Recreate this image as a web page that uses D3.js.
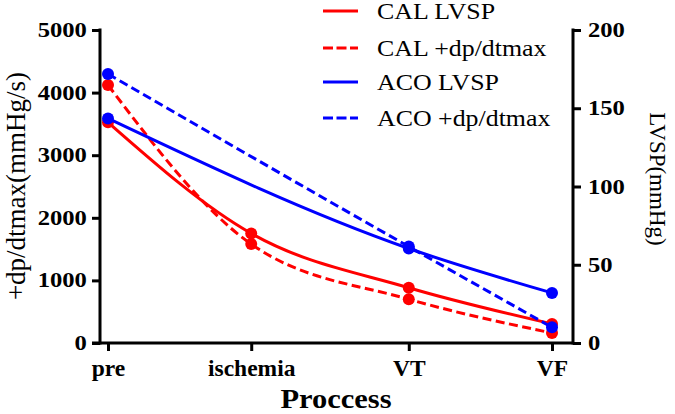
<!DOCTYPE html>
<html>
<head>
<meta charset="utf-8">
<script src="https://cdn.jsdelivr.net/npm/d3@7"></script>
<style>
html,body{margin:0;padding:0;background:#fff;}
svg{display:block;}
text{font-family:"Liberation Serif","Times New Roman",serif;}
</style>
</head>
<body>
<svg id="chart" width="675" height="414"></svg>
<script>
// ---- data ----
const categories = ["pre", "ischemia", "VT", "VF"];
const categoryPositions = [0, 1, 2.1, 3.1];
const calLVSP = [141, 70, 35.3, 12.2];          // right axis (mmHg)
const calDpdt = [4121, 1580, 700, 160];         // left axis (mmHg/s)
const acoLVSP = [143.5, null, 60.4, 32];        // right axis
const acoDpdt = [4297, null, 1540, 251];        // left axis
const leftTicks = [0, 1000, 2000, 3000, 4000, 5000];
const rightTicks = [0, 50, 100, 150, 200];
const seriesNames = ["CAL LVSP", "CAL +dp/dtmax", "ACO LVSP", "ACO +dp/dtmax"];

const svg = d3.select("#chart");
const x = d3.scaleLinear().domain([0, 3.1]).range([108, 552]);
const yL = d3.scaleLinear().domain([0, 5000]).range([343, 30]);
const yR = d3.scaleLinear().domain([0, 200]).range([343, 30]);
const axisLeftX = 100, axisRightX = 573;

const series = [
  {name: seriesNames[0], vals: calLVSP, y: yR, color: "#ff0000", dash: null},
  {name: seriesNames[1], vals: calDpdt, y: yL, color: "#ff0000", dash: "9,4.5"},
  {name: seriesNames[2], vals: acoLVSP, y: yR, color: "#0000ff", dash: null},
  {name: seriesNames[3], vals: acoDpdt, y: yL, color: "#0000ff", dash: "9,4.5"}
];

// axes
const fmt = d3.format("d");
const gL = svg.append("g").attr("transform", `translate(${axisLeftX},0)`)
  .call(d3.axisLeft(yL).tickValues(leftTicks).tickFormat(fmt).tickSize(8).tickSizeOuter(0).tickPadding(5));
const gR = svg.append("g").attr("transform", `translate(${axisRightX},0)`)
  .call(d3.axisRight(yR).tickValues(rightTicks).tickFormat(fmt).tickSize(8).tickSizeOuter(0).tickPadding(6));
const gB = svg.append("g").attr("transform", `translate(0,${yL(0)})`)
  .call(d3.axisBottom(x).tickValues(categoryPositions).tickFormat((d, i) => categories[i]).tickSize(8).tickSizeOuter(0).tickPadding(8));

[gL, gR, gB].forEach(g => {
  g.selectAll("path.domain").remove();
  g.selectAll("line").attr("stroke", "#000").attr("stroke-width", 3);
  g.selectAll("text").attr("fill", "#000").attr("font-weight", "bold")
    .attr("font-family", "'Liberation Serif','Times New Roman',serif");
});
gL.selectAll("text").attr("font-size", 20.5).attr("x", -11).attr("transform", "scale(1.2,1)");
gR.selectAll("text").attr("font-size", 20.5).attr("x", 12.5).attr("transform", "scale(1.2,1)");
gB.selectAll("text").attr("font-size", 23.5);

// axis lines
svg.append("line").attr("x1", axisLeftX).attr("x2", axisLeftX).attr("y1", yL(5000) - 1.5).attr("y2", yL(0) + 1.5)
  .attr("stroke", "#000").attr("stroke-width", 3);
svg.append("line").attr("x1", axisRightX).attr("x2", axisRightX).attr("y1", yR(200) - 1.5).attr("y2", yR(0) + 1.5)
  .attr("stroke", "#000").attr("stroke-width", 3);
svg.append("line").attr("x1", axisLeftX - 8).attr("x2", axisRightX).attr("y1", yL(0)).attr("y2", yL(0))
  .attr("stroke", "#000").attr("stroke-width", 3);

// series
series.forEach(s => {
  const pts = s.vals.map((v, i) => ({px: categoryPositions[i], v})).filter(d => d.v != null);
  const line = d3.line().x(d => x(d.px)).y(d => s.y(d.v)).curve(d3.curveMonotoneX);
  svg.append("path").datum(pts).attr("d", line).attr("fill", "none")
    .attr("stroke", s.color).attr("stroke-width", 3)
    .attr("stroke-dasharray", s.dash);
  svg.append("g").selectAll("circle").data(pts).join("circle")
    .attr("cx", d => x(d.px)).attr("cy", d => s.y(d.v)).attr("r", 6).attr("fill", s.color);
});

// titles
svg.append("text").attr("transform", "translate(25,186) rotate(-90)")
  .attr("text-anchor", "middle").attr("font-size", 27).attr("fill", "#000")
  .text("+dp/dtmax(mmHg/s)");
svg.append("text").attr("transform", "translate(650,179) rotate(90)")
  .attr("text-anchor", "middle").attr("font-size", 23).attr("fill", "#000")
  .text("LVSP(mmHg)");
svg.append("text").attr("transform", "translate(336,408) scale(1.15,1)")
  .attr("text-anchor", "middle").attr("font-size", 26.5).attr("font-weight", "bold").attr("fill", "#000")
  .text("Proccess");

// legend
const legendY = [11, 48, 82, 118];
const lg = svg.append("g");
series.forEach((s, i) => {
  lg.append("line").attr("x1", 323).attr("x2", 358).attr("y1", legendY[i]).attr("y2", legendY[i])
    .attr("stroke", s.color).attr("stroke-width", 3).attr("stroke-dasharray", s.dash ? "10,3.5" : null);
  lg.append("text").attr("transform", `translate(377,${legendY[i] + 8}) scale(1.15,1)`)
    .attr("font-size", 22.5).attr("fill", "#000").text(s.name);
});
</script>
</body>
</html>
